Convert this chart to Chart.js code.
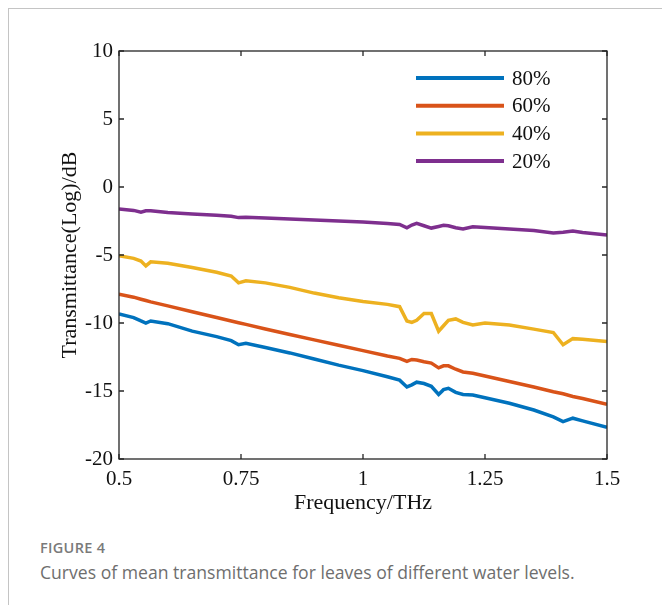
<!DOCTYPE html>
<html>
<head>
<meta charset="utf-8">
<script src="https://cdn.jsdelivr.net/npm/chart.js@4/dist/chart.umd.min.js"></script>
<style>
  html, body { margin: 0; padding: 0; background: #fff; }
  body { width: 662px; height: 605px; position: relative; overflow: hidden; }
  #card { position: absolute; left: 8px; top: 8px; width: 700px; height: 640px; border-left: 1px solid #c4c4c4; border-top: 1px solid #c4c4c4; }
  #wrap { position: absolute; left: 0; top: 0; width: 662px; height: 530px; }
  #fig { position: absolute; left: 40px; top: 538px; font-family: "Open Sans", sans-serif; font-size: 14.5px; font-weight: 600; color: #7a7a7a; letter-spacing: 0.3px; }
  #cap { position: absolute; left: 40px; top: 560px; font-family: "Open Sans", sans-serif; font-size: 17.6px; color: #6e6e6e; white-space: nowrap; }
</style>
</head>
<body>
<div id="card"></div>
<div id="wrap"><canvas id="chart" width="662" height="530"></canvas></div>
<div id="fig">FIGURE 4</div>
<div id="cap">Curves of mean transmittance for leaves of different water levels.</div>
<script>
  var freq = [0.50, 0.53, 0.545, 0.555, 0.565, 0.60, 0.65, 0.70, 0.73, 0.745, 0.76, 0.80, 0.85, 0.90, 0.95, 1.00, 1.05, 1.075, 1.09, 1.10, 1.11, 1.125, 1.14, 1.155, 1.165, 1.175, 1.19, 1.205, 1.225, 1.25, 1.30, 1.35, 1.39, 1.41, 1.43, 1.45, 1.50];

  var water80 = [-9.34, -9.6, -9.85, -10.0, -9.85, -10.05, -10.6, -11.0, -11.3, -11.6, -11.5, -11.8, -12.2, -12.65, -13.1, -13.5, -13.95, -14.2, -14.7, -14.55, -14.35, -14.45, -14.65, -15.25, -14.9, -14.8, -15.1, -15.25, -15.3, -15.5, -15.9, -16.4, -16.9, -17.25, -17.0, -17.2, -17.67];
  var water60 = [-7.89, -8.1, -8.25, -8.35, -8.45, -8.74, -9.17, -9.6, -9.85, -9.98, -10.1, -10.44, -10.85, -11.24, -11.64, -12.03, -12.43, -12.6, -12.82, -12.68, -12.72, -12.85, -12.95, -13.3, -13.15, -13.15, -13.4, -13.6, -13.7, -13.9, -14.3, -14.7, -15.05, -15.2, -15.4, -15.55, -15.98];
  var water40 = [-5.05, -5.25, -5.45, -5.8, -5.5, -5.6, -5.92, -6.27, -6.55, -7.05, -6.9, -7.05, -7.38, -7.8, -8.15, -8.42, -8.63, -8.8, -9.85, -9.95, -9.8, -9.3, -9.3, -10.6, -10.2, -9.8, -9.7, -9.95, -10.15, -10.0, -10.15, -10.45, -10.7, -11.6, -11.15, -11.2, -11.37];
  var water20 = [-1.62, -1.72, -1.85, -1.75, -1.74, -1.87, -1.98, -2.08, -2.15, -2.25, -2.22, -2.28, -2.36, -2.43, -2.5, -2.58, -2.68, -2.75, -3.0, -2.8, -2.68, -2.85, -3.02, -2.9, -2.82, -2.85, -3.0, -3.08, -2.92, -2.98, -3.08, -3.2, -3.38, -3.32, -3.24, -3.35, -3.53];

  var seriesNames = ['80%', '60%', '40%', '20%'];
  var seriesColors = ['#0072BD', '#D95319', '#EDB120', '#7E2F8E'];
  var xTicks = [0.5, 0.75, 1, 1.25, 1.5];
  var yTicks = [10, 5, 0, -5, -10, -15, -20];

  function pairs(vals) {
    return freq.map(function(f, i) { return { x: f, y: vals[i] }; });
  }

  var allValues = [water80, water60, water40, water20];
  var datasets = allValues.map(function(vals, i) {
    return {
      label: seriesNames[i],
      data: pairs(vals),
      borderColor: seriesColors[i],
      backgroundColor: seriesColors[i],
      borderWidth: 3.5,
      pointRadius: 0,
      tension: 0,
      fill: false
    };
  });

  var serif = '"Liberation Serif", "Times New Roman", serif';

  // frame with inward ticks, MATLAB style
  var frame = {
    id: 'frame',
    afterDatasetsDraw: function(chart) {
      var ctx = chart.ctx, a = chart.chartArea;
      var xs = chart.scales.x, ys = chart.scales.y;
      var len = 5;
      ctx.save();
      ctx.strokeStyle = '#262626';
      ctx.lineWidth = 1.3;
      ctx.strokeRect(a.left, a.top, a.right - a.left, a.bottom - a.top);
      ctx.beginPath();
      xTicks.forEach(function(t) {
        var px = xs.getPixelForValue(t);
        ctx.moveTo(px, a.bottom); ctx.lineTo(px, a.bottom - len);
        ctx.moveTo(px, a.top); ctx.lineTo(px, a.top + len);
      });
      yTicks.forEach(function(t) {
        var py = ys.getPixelForValue(t);
        ctx.moveTo(a.left, py); ctx.lineTo(a.left + len, py);
        ctx.moveTo(a.right, py); ctx.lineTo(a.right - len, py);
      });
      ctx.stroke();

      // legend box inside the plot, top right
      var lx0 = 416, lx1 = 504, ly = 78, step = 27.7;
      ctx.font = '21px ' + serif;
      ctx.textBaseline = 'middle';
      ctx.textAlign = 'left';
      chart.data.datasets.forEach(function(ds, i) {
        var y = ly + i * step;
        ctx.strokeStyle = ds.borderColor;
        ctx.lineWidth = 4;
        ctx.beginPath();
        ctx.moveTo(lx0, y); ctx.lineTo(lx1, y);
        ctx.stroke();
        ctx.fillStyle = '#111';
        ctx.fillText(ds.label, lx1 + 8, y + 1);
      });
      ctx.restore();
    }
  };

  new Chart(document.getElementById('chart'), {
    type: 'line',
    data: { datasets: datasets },
    plugins: [frame],
    options: {
      responsive: false,
      animation: false,
      layout: { padding: { top: 51, right: 55, left: 0, bottom: 0 } },
      plugins: { legend: { display: false }, tooltip: { enabled: false } },
      scales: {
        x: {
          type: 'linear',
          min: 0.5,
          max: 1.5,
          afterBuildTicks: function(scale) {
            scale.ticks = xTicks.map(function(v) { return { value: v }; });
          },
          afterFit: function(scale) { scale.height = 71; },
          grid: { display: false, drawTicks: false },
          border: { display: false },
          ticks: {
            autoSkip: false,
            maxRotation: 0,
            padding: 8,
            color: '#111',
            font: { family: serif, size: 21 },
            callback: function(v) { return String(v); }
          },
          title: {
            display: true,
            text: 'Frequency/THz',
            color: '#111',
            font: { family: serif, size: 22 },
            padding: { top: 0, bottom: 14 }
          }
        },
        y: {
          min: -20,
          max: 10,
          afterBuildTicks: function(scale) {
            scale.ticks = yTicks.map(function(v) { return { value: v }; });
          },
          afterFit: function(scale) { scale.width = 119; },
          grid: { display: false, drawTicks: false },
          border: { display: false },
          ticks: {
            padding: 6,
            color: '#111',
            font: { family: serif, size: 21 },
            callback: function(v) { return String(v); }
          },
          title: {
            display: true,
            text: 'Transmittance(Log)/dB',
            color: '#111',
            font: { family: serif, size: 22 },
            padding: { top: 57, bottom: 0 }
          }
        }
      }
    }
  });
</script>
</body>
</html>
